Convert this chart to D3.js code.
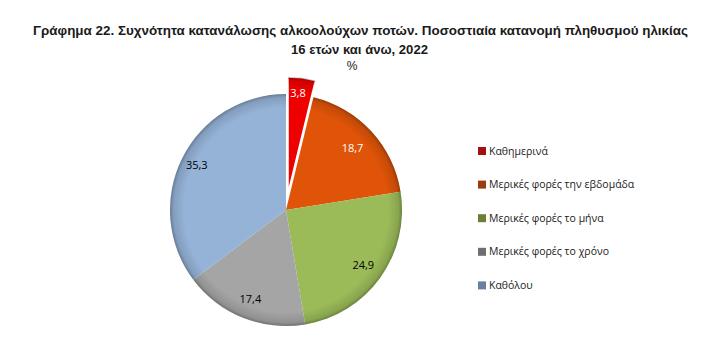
<!DOCTYPE html>
<html><head><meta charset="utf-8">
<script src="https://cdn.jsdelivr.net/npm/d3@7"></script>
<style>body{margin:0;background:#fff}</style>
</head><body>
<script>
const categories = ["Καθημερινά","Μερικές φορές την εβδομάδα","Μερικές φορές το μήνα","Μερικές φορές το χρόνο","Καθόλου"];
const values = [3.8, 18.7, 24.9, 17.4, 35.3];
const labels = ["3,8","18,7","24,9","17,4","35,3"];
const colors = ["#ee0000","#df5409","#9bbb59","#a5a5a5","#95b3d7"];
const legendColors = ["#a50f0f","#9a3c10","#6c7f3a","#6e6e6e","#6a7fa0"];
const labelColors = ["#fff","#fff","#000","#000","#000"];

const W=713,H=361;
const svg=d3.select("body").append("svg").attr("width",W).attr("height",H);
const font="'Liberation Sans', Arial, sans-serif";

svg.append("text").attr("x",33).attr("y",35)
 .attr("font-family",font).attr("font-weight","bold").attr("font-size",13.5).attr("fill","#1a1a1a")
 .attr("textLength",655).attr("lengthAdjust","spacingAndGlyphs")
 .text("Γράφημα 22. Συχνότητα κατανάλωσης αλκοολούχων ποτών. Ποσοστιαία κατανομή πληθυσμού ηλικίας");
svg.append("text").attr("x",291).attr("y",54)
 .attr("font-family",font).attr("font-weight","bold").attr("font-size",13.5).attr("fill","#1a1a1a")
 .attr("textLength",137).attr("lengthAdjust","spacingAndGlyphs")
 .text("16 ετών και άνω, 2022");
svg.append("text").attr("x",352).attr("y",70).attr("text-anchor","middle")
 .attr("font-family",font).attr("font-size",12).attr("fill","#1a1a1a").text("%");

const cx=286, cy=210, R=116;
const pie=d3.pie().sort(null).value(d=>d)(values);
const arc=d3.arc().innerRadius(0).outerRadius(R);
const defs=svg.append("defs");
const g=defs.append("radialGradient").attr("id","bevel").attr("gradientUnits","userSpaceOnUse")
 .attr("cx",0).attr("cy",0).attr("r",R);
g.append("stop").attr("offset","0.88").attr("stop-color","#000").attr("stop-opacity",0);
g.append("stop").attr("offset","0.97").attr("stop-color","#000").attr("stop-opacity",0.12);
g.append("stop").attr("offset","1").attr("stop-color","#000").attr("stop-opacity",0.3);

const explode=[17,0,0,0,0];
const gp=svg.append("g").attr("transform",`translate(${cx},${cy})`);
pie.forEach((p,i)=>{
  const m=(p.startAngle+p.endAngle)/2;
  const dx=Math.sin(m)*explode[i], dy=-Math.cos(m)*explode[i];
  const sg=gp.append("g").attr("transform",`translate(${dx},${dy})`);
  sg.append("path").attr("d",arc(p)).attr("fill",colors[i]).attr("stroke","#fff").attr("stroke-width",i===0?1.5:0);
  sg.append("path").attr("d",arc(p)).attr("fill","url(#bevel)");
});
const labelR=[0,0.78,0.82,0.83,0.86];
pie.forEach((p,i)=>{
  let x,y;
  if(i===0){x=12;y=-117;}
  else {[x,y]=d3.arc().innerRadius(R*labelR[i]).outerRadius(R*labelR[i]).centroid(p);}
  gp.append("text").attr("x",x).attr("y",y).attr("dy","0.35em").attr("text-anchor","middle")
   .attr("font-family","'Open Sans', sans-serif").attr("font-size",11).attr("fill",labelColors[i]).text(labels[i]);
});

const lg=svg.append("g");
categories.forEach((c,i)=>{
  const y=151+i*33.6;
  lg.append("rect").attr("x",478).attr("y",y-4).attr("width",8).attr("height",8).attr("fill",legendColors[i]);
  lg.append("text").attr("x",489).attr("y",y).attr("dy","0.35em").attr("font-family","'Open Sans', sans-serif")
   .attr("font-size",10.5).attr("fill","#222").text(c);
});
</script>
</body></html>
